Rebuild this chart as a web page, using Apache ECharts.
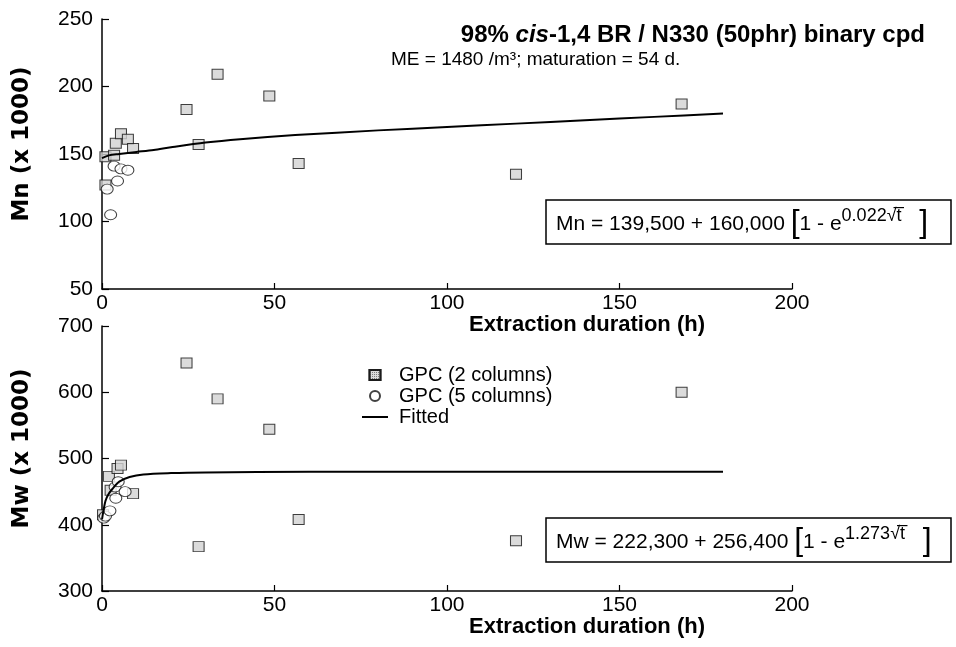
<!DOCTYPE html>
<html>
<head>
<meta charset="utf-8">
<script src="https://cdn.jsdelivr.net/npm/echarts@6/dist/echarts.min.js"></script>
<style>html,body{margin:0;background:#fff}#chart{width:956px;height:647px}</style>
</head>
<body>
<div id="chart"></div>
<script>
// data (hours, value x 1000)
var mnSquareT = [1, 1, 3.5, 4, 5.5, 7.5, 9, 24.5, 28, 33.5, 48.5, 57, 120, 168];
var mnSquareV = [127, 148, 149, 158, 165, 161, 154, 183, 157, 209, 193, 143, 135, 187];
var mnCircleT = [1.5, 2.5, 3.5, 4.5, 5.5, 7.5];
var mnCircleV = [124, 105, 141, 130, 139, 138];
var mnFitT = [0, 2, 5, 10, 15, 20, 30, 40, 56, 80, 100, 120, 140, 160, 180];
var mnFitV = [147, 149, 150, 151.5, 153, 155, 158.5, 161, 164, 167.5, 170, 172.5, 175, 177.5, 180];

var mwSquareT = [0.3, 2, 2.5, 4.5, 5.5, 9, 24.5, 28, 33.5, 48.5, 57, 120, 168];
var mwSquareV = [415, 473, 452, 485, 490, 447, 644, 367, 590, 544, 408, 376, 600];
var mwCircleT = [0.5, 1, 2.3, 3.8, 4, 4.7, 6.7];
var mwCircleV = [410, 413, 421, 457, 440, 465, 450];
var mwFitT = [0, 1, 2, 3, 5, 8, 12, 20, 30, 60, 120, 180];
var mwFitV = [408, 436, 447, 454, 465, 472, 476, 478, 479, 480, 480, 480];

var xTicks = [0, 200, 50];        // min, max, interval
var mnTicks = [50, 250, 50];
var mwTicks = [300, 700, 100];

var legendNames = ['GPC (2 columns)', 'GPC (5 columns)', 'Fitted'];

function pairs(xs, ys) {
    return xs.map(function (x, i) { return [x, ys[i]]; });
}

var FONT = '"Liberation Sans", Arial, sans-serif';

var myChart = echarts.init(document.getElementById('chart'));

function xAxisOf(grid) {
    return {
        gridIndex: grid,
        type: 'value',
        min: xTicks[0], max: xTicks[1], interval: xTicks[2],
        axisLine: {lineStyle: {color: '#000', width: 1.5}},
        axisTick: {inside: true, length: 6, lineStyle: {color: '#000', width: 1.2}},
        axisLabel: {color: '#000', fontSize: 21, fontFamily: FONT, margin: 4},
        splitLine: {show: false},
        name: 'Extraction duration (h)',
        nameLocation: 'end',
        nameGap: -87,
        nameTextStyle: {
            color: '#000', fontSize: 22, fontWeight: 'bold', fontFamily: FONT,
            align: 'right', verticalAlign: 'top', padding: [25, 0, 0, 0]
        }
    };
}

function yAxisOf(grid, ticks, name) {
    return {
        gridIndex: grid,
        type: 'value',
        min: ticks[0], max: ticks[1], interval: ticks[2],
        axisLine: {show: true, lineStyle: {color: '#000', width: 1.5}},
        axisTick: {show: true, inside: true, length: 7, lineStyle: {color: '#000', width: 1.2}},
        axisLabel: {color: '#000', fontSize: 21, fontFamily: FONT, margin: 9},
        splitLine: {show: false},
        name: name,
        nameLocation: 'middle',
        nameGap: 68,
        nameTextStyle: {
            color: '#000', fontSize: 23, fontWeight: 'bold',
            fontFamily: '"DejaVu Sans", sans-serif', padding: [0, 0, 0, 20]
        }
    };
}

// dotted grey fill of the square markers
var squareStyle = {
    color: '#d2d2d2', borderColor: '#111', borderWidth: 1,
    decal: {symbol: 'rect', symbolSize: 1, color: '#666', dashArrayX: [1, 1], dashArrayY: [1, 1]}
};
var circleStyle = {color: '#fff', borderColor: '#111', borderWidth: 1};

function seriesOf(grid, sqT, sqV, ciT, ciV, fitT, fitV) {
    return [{
        name: legendNames[0], type: 'scatter', xAxisIndex: grid, yAxisIndex: grid,
        symbol: 'rect', symbolSize: [11, 10], itemStyle: squareStyle,
        data: pairs(sqT, sqV)
    }, {
        name: legendNames[1], type: 'scatter', xAxisIndex: grid, yAxisIndex: grid,
        symbol: 'circle', symbolSize: [12, 10], itemStyle: circleStyle,
        data: pairs(ciT, ciV)
    }, {
        name: legendNames[2], type: 'line', xAxisIndex: grid, yAxisIndex: grid,
        symbol: 'none', smooth: 0.3,
        itemStyle: {color: '#000'},
        lineStyle: {color: '#000', width: 2},
        data: pairs(fitT, fitV)
    }];
}

function eqBox(x, y, label, coef) {
    return [{
        type: 'rect',
        shape: {x: x, y: y, width: 405, height: 44},
        style: {fill: '#fff', stroke: '#000', lineWidth: 1.5},
        z: 10
    }, {
        type: 'text',
        x: x + 10, y: y + 23,
        z: 11,
        style: {
            text: '{n|' + label + ' }{b|[}{n|1 - e}{s|' + coef + '√t\u0305}{b|  ]}',
            verticalAlign: 'middle',
            rich: {
                n: {fontSize: 21, fontFamily: FONT, color: '#000', verticalAlign: 'bottom', padding: [0, 0, 4, 0]},
                b: {fontSize: 32, fontFamily: FONT, color: '#000', verticalAlign: 'bottom'},
                s: {fontSize: 18, fontFamily: FONT, color: '#000', verticalAlign: 'top'}
            }
        }
    }];
}

var option = {
    animation: false,
    backgroundColor: '#fff',
    title: [{
        text: '{b|98% }{i|cis}{b|-1,4 BR / N330 (50phr) binary cpd}',
        right: 26, top: 18,
        textStyle: {
            rich: {
                b: {fontSize: 24, fontWeight: 'bold', fontFamily: FONT, color: '#000'},
                i: {fontSize: 24, fontWeight: 'bold', fontStyle: 'italic', fontFamily: FONT, color: '#000'}
            }
        }
    }, {
        text: 'ME = 1480 /m³; maturation = 54 d.',
        left: 386, top: 45,
        textStyle: {fontSize: 19, fontWeight: 'normal', fontFamily: FONT, color: '#000'}
    }],
    legend: {
        orient: 'vertical',
        left: 357, top: 360,
        itemWidth: 26, itemHeight: 10, itemGap: 1,
        symbolKeepAspect: true,
        textStyle: {fontSize: 20, fontFamily: FONT, color: '#000', padding: [0, 0, 0, 6]},
        data: [
            {name: legendNames[0], icon: 'path://M0,0H11V10H0Z'},
            {name: legendNames[1], icon: 'circle'},
            {name: legendNames[2], icon: 'path://M0,0H26V2H0Z', itemStyle: {color: '#000'}}
        ]
    },
    grid: [
        {left: 102, top: 19, width: 690, height: 270},
        {left: 102, top: 326, width: 690, height: 265}
    ],
    xAxis: [xAxisOf(0), xAxisOf(1)],
    yAxis: [yAxisOf(0, mnTicks, 'Mn (x 1000)'), yAxisOf(1, mwTicks, 'Mw (x 1000)')],
    series: seriesOf(0, mnSquareT, mnSquareV, mnCircleT, mnCircleV, mnFitT, mnFitV)
        .concat(seriesOf(1, mwSquareT, mwSquareV, mwCircleT, mwCircleV, mwFitT, mwFitV)),
    graphic: eqBox(546, 200, 'Mn = 139,500 + 160,000', '0.022')
        .concat(eqBox(546, 518, 'Mw = 222,300 + 256,400', '1.273'))
};

myChart.setOption(option);
</script>
</body>
</html>
